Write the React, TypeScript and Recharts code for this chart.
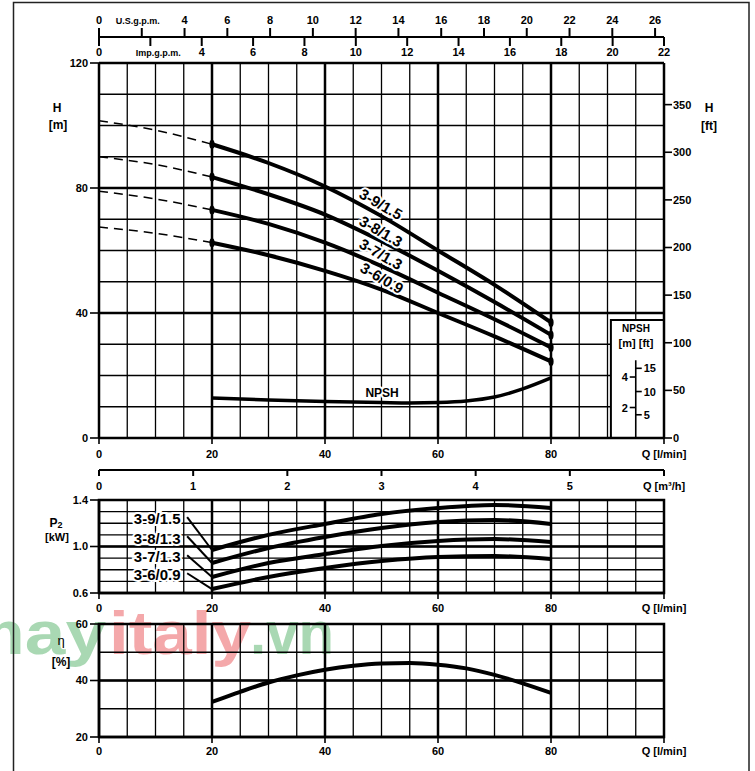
import React from 'react';
import {
  ComposedChart,
  Line,
  XAxis,
  YAxis,
  CartesianGrid,
  ReferenceLine,
  ReferenceArea,
  ReferenceDot,
} from 'recharts';

// pump models
const pumps = ['3-9/1.5', '3-8/1.3', '3-7/1.3', '3-6/0.9'];

// flow Q [l/min]
const qRunIn = [0, 10, 20];
const qCurve = [20, 30, 40, 50, 60, 70, 80];

// head H [m], dashed part from shut-off to Q=20
const head39Run = [101.5, 98.5, 94];
const head38Run = [90, 87.5, 83.5];
const head37Run = [79, 76.5, 73];
const head36Run = [67.5, 65.5, 62.5];

// head H [m], working range
const head39 = [94, 88, 80.5, 71, 60, 49, 37];
const head38 = [83.5, 78, 71.5, 63, 53.5, 43.5, 33];
const head37 = [73, 68.5, 62.5, 55, 46.5, 38, 29];
const head36 = [62.5, 58.5, 53.5, 47.5, 40, 32.5, 24.5];

// NPSH [m]
const qNpsh = [20, 30, 40, 50, 55, 60, 65, 70, 75, 80];
const npsh = [2.62, 2.49, 2.4, 2.33, 2.3, 2.33, 2.43, 2.69, 3.22, 3.94];

// power P2 [kW]
const power39 = [0.97, 1.1, 1.194, 1.28, 1.331, 1.357, 1.331];
const power38 = [0.858, 0.987, 1.082, 1.159, 1.211, 1.228, 1.194];
const power37 = [0.738, 0.858, 0.935, 1.004, 1.047, 1.064, 1.039];
const power36 = [0.634, 0.738, 0.815, 0.875, 0.91, 0.918, 0.892];

// efficiency [%]
const qEff = [20, 25, 30, 35, 40, 45, 50, 55, 60, 65, 70, 75, 80];
const eff = [32.4, 36, 39.3, 41.8, 43.8, 45.2, 46, 46.2, 45.6, 44.3, 42, 39, 35.6];

// ticks
const qTicks = [0, 20, 40, 60, 80, 100];
const m3Ticks = [0, 1, 2, 3, 4, 5, 6];
const usTicks = [0, 2, 4, 6, 8, 10, 12, 14, 16, 18, 20, 22, 24, 26];
const impTicks = [0, 2, 4, 6, 8, 10, 12, 14, 16, 18, 20, 22];
const headTicks = [0, 40, 80, 120];
const ftTicks = [0, 50, 100, 150, 200, 250, 300, 350];
const powerTicks = [0.6, 1.0, 1.4];
const effTicks = [20, 40, 60];
const npshMTicks = [2, 4];
const npshFtTicks = [5, 10, 15];

// secondary flow-unit ranges (same span as 0..100 l/min)
const m3Span = [0, 6];
const usSpan = [0, 26.417];
const impSpan = [0, 22];

// grid
const qGrid = Array.from({ length: 21 }, (_, i) => i * 5);
const qMajor = [20, 40, 60, 80];
const headGrid = Array.from({ length: 13 }, (_, i) => i * 10);
const powerGrid = [0.6, 0.7, 0.8, 0.9, 1.0, 1.1, 1.2, 1.3, 1.4];
const effGrid = [20, 30, 40, 50, 60];

const FONT = "'Liberation Sans', Arial, Helvetica, sans-serif";
const tickFont = { fontFamily: FONT, fontSize: 11, fontWeight: 700, fill: '#000' };
const axisThick = { stroke: '#000', strokeWidth: 2.5 };
const tickThin = { stroke: '#000', strokeWidth: 1.6 };

const rows = (qs: number[], vs: number[]) => qs.map((q, i) => ({ q, v: vs[i] }));

const qFmt = (v: number) => (v === 100 ? 'Q [l/min]' : String(v));
const m3Fmt = (v: number) => (v === 6 ? 'Q [m³/h]' : String(v));

const UsTick = (p: any) => {
  const v = p.payload.value;
  const isName = v === 2;
  return (
    <g>
      <line x1={p.x} x2={p.x} y1={p.y - 9} y2={p.y} stroke="#000" strokeWidth={2} />
      <text
        x={p.x + (isName ? -4 : 0)}
        y={p.y - 13}
        textAnchor="middle"
        fontFamily={FONT}
        fontWeight={700}
        fontSize={isName ? 9 : 11}
        fill="#000"
      >
        {isName ? 'U.S.g.p.m.' : v}
      </text>
    </g>
  );
};

const ImpTick = (p: any) => {
  const v = p.payload.value;
  const isName = v === 2;
  return (
    <g>
      <line x1={p.x} x2={p.x} y1={p.y - 26} y2={p.y - 17} stroke="#000" strokeWidth={2} />
      <text
        x={p.x + (isName ? 8 : 0)}
        y={p.y - 7}
        textAnchor="middle"
        fontFamily={FONT}
        fontWeight={700}
        fontSize={isName ? 9 : 11}
        fill="#000"
      >
        {isName ? 'Imp.g.p.m.' : v}
      </text>
    </g>
  );
};

const endDot = (p: any) =>
  p.payload && (p.payload.q === 20 || p.payload.q === 80) ? (
    <ellipse key={`e${p.index}`} cx={p.cx} cy={p.cy} rx={2.6} ry={4.5} fill="#000" />
  ) : (
    <g key={`e${p.index}`} />
  );

const haloText = (text: string, angle: number, size: number) => (p: any) => (
  <text
    x={p.cx}
    y={p.cy}
    transform={`rotate(${angle} ${p.cx} ${p.cy})`}
    textAnchor="middle"
    dominantBaseline="central"
    fontFamily={FONT}
    fontWeight={700}
    fontSize={size}
    fill="#000"
    stroke="#fff"
    strokeWidth={4}
    paintOrder="stroke"
  >
    {text}
  </text>
);

const sideTick = (text: string, dir: number) => (p: any) => (
  <g>
    <line x1={p.cx} x2={p.cx + dir * 6} y1={p.cy} y2={p.cy} stroke="#000" strokeWidth={1.6} />
    <text
      x={p.cx + dir * 8}
      y={p.cy}
      textAnchor={dir < 0 ? 'end' : 'start'}
      dominantBaseline="central"
      fontFamily={FONT}
      fontWeight={700}
      fontSize={11}
      fill="#000"
    >
      {text}
    </text>
  </g>
);

// annotation anchors (data coordinates)
const headLabelPos = [
  { q: 49.9, h: 74.9 },
  { q: 49.9, h: 66.2 },
  { q: 49.9, h: 58.9 },
  { q: 50.1, h: 51.2 },
];
const powerLabelPos = [
  { q: 10.3, p: 1.237 },
  { q: 10.3, p: 1.073 },
  { q: 10.3, p: 0.91 },
  { q: 10.3, p: 0.755 },
];

const HeadChart = () => {
  const runs = [head39Run, head38Run, head37Run, head36Run];
  const heads = [head39, head38, head37, head36];
  return (
    <ComposedChart width={755} height={510} margin={{ top: 11, right: 41, bottom: 10, left: 0 }}>
      <CartesianGrid stroke="#000" strokeWidth={1.3} verticalValues={qGrid} horizontalValues={headGrid} />
      <XAxis
        dataKey="q"
        type="number"
        domain={[0, 100]}
        ticks={qTicks}
        interval={0}
        allowDataOverflow
        tickFormatter={qFmt}
        height={32}
        tickSize={6}
        tickMargin={6}
        axisLine={axisThick}
        tickLine={tickThin}
        tick={tickFont}
      />
      <XAxis
        xAxisId="m3"
        dataKey="q"
        orientation="bottom"
        type="number"
        domain={m3Span}
        ticks={m3Ticks}
        interval={0}
        allowDataOverflow
        tickFormatter={m3Fmt}
        height={30}
        tickSize={6}
        tickMargin={6}
        axisLine={{ stroke: '#000', strokeWidth: 2 }}
        tickLine={{ stroke: '#000', strokeWidth: 2 }}
        tick={tickFont}
      />
      <XAxis
        xAxisId="imp"
        dataKey="q"
        orientation="top"
        type="number"
        domain={impSpan}
        ticks={impTicks}
        interval={0}
        allowDataOverflow
        height={26}
        tickSize={0}
        tickMargin={0}
        tickLine={false}
        axisLine={axisThick}
        tick={<ImpTick />}
      />
      <XAxis
        xAxisId="us"
        dataKey="q"
        orientation="top"
        type="number"
        domain={usSpan}
        ticks={usTicks}
        interval={0}
        allowDataOverflow
        height={26}
        tickSize={0}
        tickMargin={0}
        tickLine={false}
        axisLine={{ stroke: '#000', strokeWidth: 2 }}
        tick={<UsTick />}
      />
      <YAxis
        type="number"
        domain={[0, 120]}
        ticks={headTicks}
        interval={0}
        allowDataOverflow
        width={99}
        tickSize={9}
        tickMargin={2}
        axisLine={axisThick}
        tickLine={tickThin}
        tick={tickFont}
      />
      <YAxis
        yAxisId="ft"
        orientation="right"
        type="number"
        domain={[0, 393.7]}
        ticks={ftTicks}
        interval={0}
        allowDataOverflow
        width={50}
        tickSize={8}
        tickMargin={1}
        axisLine={axisThick}
        tickLine={tickThin}
        tick={tickFont}
      />
      <YAxis yAxisId="npsh" hide type="number" domain={[0, 24.6]} allowDataOverflow />

      {qMajor.map((q) => (
        <ReferenceLine key={`vx${q}`} x={q} stroke="#000" strokeWidth={2.5} />
      ))}
      <ReferenceLine y={40} stroke="#000" strokeWidth={2.5} />
      <ReferenceLine y={80} stroke="#000" strokeWidth={2.5} />

      <ReferenceArea x1={90.6} x2={100} y1={0} y2={37.8} fill="#fff" fillOpacity={1} stroke="#000" strokeWidth={2} />
      <ReferenceLine
        yAxisId="npsh"
        segment={[
          { x: 95, y: 0 },
          { x: 95, y: 5.1 },
        ]}
        stroke="#000"
        strokeWidth={1.6}
      />
      {npshMTicks.map((m) => (
        <ReferenceDot key={`nm${m}`} yAxisId="npsh" x={95} y={m} r={1} shape={sideTick(String(m), -1)} />
      ))}
      {npshFtTicks.map((ft) => (
        <ReferenceDot key={`nf${ft}`} yAxisId="npsh" x={95} y={ft / 3.2808} r={1} shape={sideTick(String(ft), 1)} />
      ))}

      {/* invisible anchors so the secondary flow axes get their scales */}
      <Line xAxisId="m3" data={rows(m3Span, [0, 0])} dataKey="v" stroke="none" dot={false} activeDot={false} isAnimationActive={false} />
      <Line xAxisId="imp" data={rows(impSpan, [0, 0])} dataKey="v" stroke="none" dot={false} activeDot={false} isAnimationActive={false} />
      <Line xAxisId="us" data={rows(usSpan, [0, 0])} dataKey="v" stroke="none" dot={false} activeDot={false} isAnimationActive={false} />

      {runs.map((r, i) => (
        <Line
          key={`run${i}`}
          data={rows(qRunIn, r)}
          dataKey="v"
          type="monotone"
          stroke="#000"
          strokeWidth={1.5}
          strokeDasharray="9 6"
          dot={false}
          isAnimationActive={false}
        />
      ))}
      {heads.map((h, i) => (
        <Line
          key={`head${i}`}
          data={rows(qCurve, h)}
          dataKey="v"
          type="monotone"
          stroke="#000"
          strokeWidth={4}
          dot={endDot}
          isAnimationActive={false}
        />
      ))}
      <Line
        yAxisId="npsh"
        data={rows(qNpsh, npsh)}
        dataKey="v"
        type="monotone"
        stroke="#000"
        strokeWidth={3.5}
        dot={false}
        isAnimationActive={false}
      />

      {headLabelPos.map((pos, i) => (
        <ReferenceDot key={`hl${i}`} x={pos.q} y={pos.h} r={1} shape={haloText(pumps[i], 30, 15)} />
      ))}
      <ReferenceDot yAxisId="npsh" x={50.1} y={2.95} r={1} shape={haloText('NPSH', 0, 12)} />
    </ComposedChart>
  );
};

const PowerChart = () => {
  const powers = [power39, power38, power37, power36];
  return (
    <ComposedChart width={755} height={125} margin={{ top: 10, right: 91, bottom: 0, left: 0 }}>
      <CartesianGrid stroke="#000" strokeWidth={1.3} verticalValues={qGrid} horizontalValues={powerGrid} />
      <XAxis
        dataKey="q"
        type="number"
        domain={[0, 100]}
        ticks={qTicks}
        interval={0}
        allowDataOverflow
        tickFormatter={qFmt}
        height={22}
        tickSize={6}
        tickMargin={5}
        axisLine={axisThick}
        tickLine={tickThin}
        tick={tickFont}
      />
      <YAxis
        type="number"
        domain={[0.6, 1.4]}
        ticks={powerTicks}
        interval={0}
        allowDataOverflow
        tickFormatter={(v: number) => v.toFixed(1)}
        width={99}
        tickSize={9}
        tickMargin={2}
        axisLine={axisThick}
        tickLine={tickThin}
        tick={tickFont}
      />
      {qMajor.map((q) => (
        <ReferenceLine key={`vx${q}`} x={q} stroke="#000" strokeWidth={2.5} />
      ))}
      <ReferenceLine y={1.0} stroke="#000" strokeWidth={2.5} />
      <ReferenceArea x1={0} x2={100} y1={0.6} y2={1.4} fill="none" stroke="#000" strokeWidth={2.5} />

      {powers.map((p, i) => (
        <ReferenceLine
          key={`lead${i}`}
          segment={[
            { x: 15.6, y: powerLabelPos[i].p + 0.015 },
            { x: 20, y: p[0] },
          ]}
          stroke="#000"
          strokeWidth={2}
        />
      ))}
      {powers.map((p, i) => (
        <Line
          key={`pow${i}`}
          data={rows(qCurve, p)}
          dataKey="v"
          type="monotone"
          stroke="#000"
          strokeWidth={4}
          dot={false}
          isAnimationActive={false}
        />
      ))}
      {powerLabelPos.map((pos, i) => (
        <ReferenceDot key={`pl${i}`} x={pos.q} y={pos.p} r={1} shape={haloText(pumps[i], 0, 15)} />
      ))}
    </ComposedChart>
  );
};

const EffChart = () => (
  <ComposedChart width={755} height={150} margin={{ top: 10, right: 91, bottom: 4, left: 0 }}>
    <CartesianGrid stroke="#000" strokeWidth={1.3} verticalValues={qGrid} horizontalValues={effGrid} />
    <XAxis
      dataKey="q"
      type="number"
      domain={[0, 100]}
      ticks={qTicks}
      interval={0}
      allowDataOverflow
      tickFormatter={qFmt}
      height={23}
      tickSize={6}
      tickMargin={4}
      axisLine={axisThick}
      tickLine={tickThin}
      tick={tickFont}
    />
    <YAxis
      type="number"
      domain={[20, 60]}
      ticks={effTicks}
      interval={0}
      allowDataOverflow
      width={99}
      tickSize={9}
      tickMargin={2}
      axisLine={axisThick}
      tickLine={tickThin}
      tick={tickFont}
    />
    {qMajor.map((q) => (
      <ReferenceLine key={`vx${q}`} x={q} stroke="#000" strokeWidth={2.5} />
    ))}
    <ReferenceLine y={40} stroke="#000" strokeWidth={2.5} />
    <ReferenceArea x1={0} x2={100} y1={20} y2={60} fill="none" stroke="#000" strokeWidth={2.5} />
    <Line
      data={rows(qEff, eff)}
      dataKey="v"
      type="monotone"
      stroke="#000"
      strokeWidth={4}
      dot={false}
      isAnimationActive={false}
    />
  </ComposedChart>
);

const titleProps = {
  fontFamily: FONT,
  fontWeight: 700,
  fill: '#000',
  textAnchor: 'middle' as const,
};

export default function App() {
  return (
    <div style={{ position: 'absolute', left: 0, top: 0, width: 755, height: 771, background: '#fff', overflow: 'hidden' }}>
      {/* watermark */}
      <svg width={755} height={771} style={{ position: 'absolute', left: 0, top: 0 }}>
        <g fontFamily={FONT} fontWeight={700} fontSize={62}>
          <text x={-40} y={654} fill="#a9d8b3" textLength={146} lengthAdjust="spacingAndGlyphs">may</text>
          <text x={109} y={654} fill="#f4a8aa" textLength={142} lengthAdjust="spacingAndGlyphs">italy</text>
          <text x={250} y={654} fill="#a9d8b3" textLength={84} lengthAdjust="spacingAndGlyphs">.vn</text>
        </g>
      </svg>
      <div style={{ position: 'absolute', left: 0, top: 0 }}>
        <HeadChart />
      </div>
      <div style={{ position: 'absolute', left: 0, top: 490 }}>
        <PowerChart />
      </div>
      <div style={{ position: 'absolute', left: 0, top: 614 }}>
        <EffChart />
      </div>
      <svg width={755} height={771} style={{ position: 'absolute', left: 0, top: 0, pointerEvents: 'none' }}>
        <rect x={13.5} y={2.5} width={735.5} height={800} fill="none" stroke="#222" strokeWidth={1.5} />
        <text {...titleProps} x={57} y={112} fontSize={12}>H</text>
        <text {...titleProps} x={58} y={129} fontSize={12}>[m]</text>
        <text {...titleProps} x={709} y={112} fontSize={12}>H</text>
        <text {...titleProps} x={709} y={130} fontSize={12}>[ft]</text>
        <text {...titleProps} x={56} y={527} fontSize={12}>
          P<tspan fontSize={9} dy={1}>2</tspan>
        </text>
        <text {...titleProps} x={57} y={541} fontSize={11}>[kW]</text>
        <text {...titleProps} x={61} y={645} fontSize={13} fontWeight={400}>η</text>
        <text {...titleProps} x={61} y={666} fontSize={12}>[%]</text>
        <text {...titleProps} x={636} y={332} fontSize={10}>NPSH</text>
        <text {...titleProps} x={636} y={347} fontSize={11}>[m] [ft]</text>
      </svg>
    </div>
  );
}
